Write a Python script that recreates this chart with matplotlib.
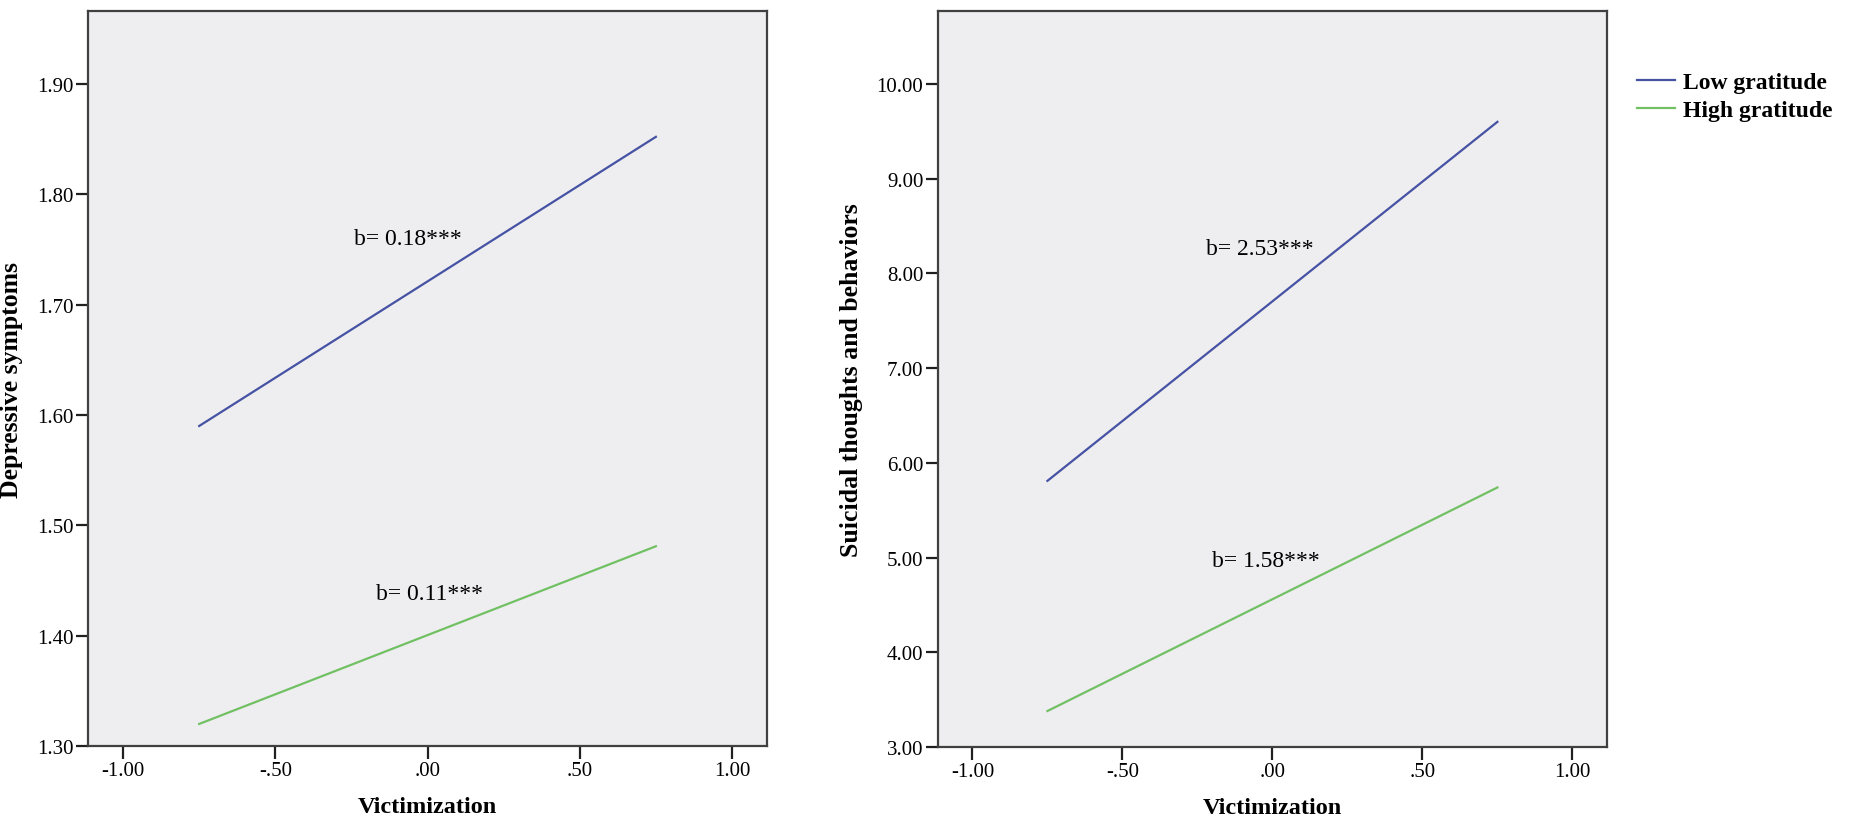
import matplotlib
matplotlib.use("Agg")
import matplotlib.pyplot as plt
from matplotlib.ticker import FuncFormatter

# data
victim = [-0.75, 0.75]
dep_low = [1.590, 1.852]
dep_high = [1.320, 1.481]
sui_low = [5.81, 9.60]
sui_high = [3.38, 5.74]

series_names = ["Low gratitude", "High gratitude"]
dep_slopes = ["b= 0.18***", "b= 0.11***"]
sui_slopes = ["b= 2.53***", "b= 1.58***"]

x_ticks = [-1.0, -0.5, 0.0, 0.5, 1.0]
dep_ticks = [1.30, 1.40, 1.50, 1.60, 1.70, 1.80, 1.90]
sui_ticks = [3.0, 4.0, 5.0, 6.0, 7.0, 8.0, 9.0, 10.0]

blue = "#4652a3"
green = "#72c064"
bg = "#eeeef0"
frame = "#404040"

plt.rcParams["font.family"] = ["Liberation Serif", "DejaVu Serif"]


def spss_fmt(v, pos):
    # SPSS style: no leading zero
    s = f"{v:.2f}"
    if s.startswith("0."):
        s = s[1:]
    elif s.startswith("-0."):
        s = "-" + s[2:]
    return s


def style_axis(ax, yticks):
    ax.set_facecolor(bg)
    for sp in ax.spines.values():
        sp.set_color(frame)
        sp.set_linewidth(1.6)
    ax.set_xticks(x_ticks)
    ax.set_yticks(yticks)
    ax.xaxis.set_major_formatter(FuncFormatter(spss_fmt))
    ax.yaxis.set_major_formatter(FuncFormatter(spss_fmt))
    ax.tick_params(direction="out", length=9, width=1.6, color="#202020",
                   labelsize=15, pad=1.5)
    ax.set_xlim(-1.115, 1.115)
    ax.set_xlabel("Victimization", fontsize=17.5, fontweight="bold", labelpad=12)


fig = plt.figure(figsize=(18.5, 8.29), dpi=100)
ax1 = fig.add_axes([0.0476, 0.0989, 0.367, 0.8866])
ax2 = fig.add_axes([0.5070, 0.0977, 0.3616, 0.8878])

# left panel
ax1.plot(victim, dep_low, color=blue, lw=1.6, label=series_names[0])
ax1.plot(victim, dep_high, color=green, lw=1.6, label=series_names[1])
ax1.text(-0.24, 1.760, dep_slopes[0], fontsize=17, va="center")
ax1.text(-0.17, 1.438, dep_slopes[1], fontsize=17, va="center")
style_axis(ax1, dep_ticks)
ax1.set_ylim(1.30, 1.966)
ax1.set_ylabel("Depressive symptoms", fontsize=18.5, fontweight="bold")
ax1.yaxis.set_label_coords(-0.096, 0.5)

# right panel
ax2.plot(victim, sui_low, color=blue, lw=1.6)
ax2.plot(victim, sui_high, color=green, lw=1.6)
ax2.text(-0.22, 8.26, sui_slopes[0], fontsize=17, va="center")
ax2.text(-0.20, 4.97, sui_slopes[1], fontsize=17, va="center")
style_axis(ax2, sui_ticks)
ax2.set_ylim(3.0, 10.77)
ax2.set_ylabel("Suicidal thoughts and behaviors", fontsize=18.5, fontweight="bold")
ax2.yaxis.set_label_coords(-0.112, 0.5)

fig.legend(loc="upper left", bbox_to_anchor=(0.885, 0.912), frameon=False,
           prop={"size": 17, "weight": "bold"}, handlelength=1.6,
           handletextpad=0.35, labelspacing=0.25, borderpad=0, borderaxespad=0)

fig.savefig("out.png", dpi=100, facecolor="white")
